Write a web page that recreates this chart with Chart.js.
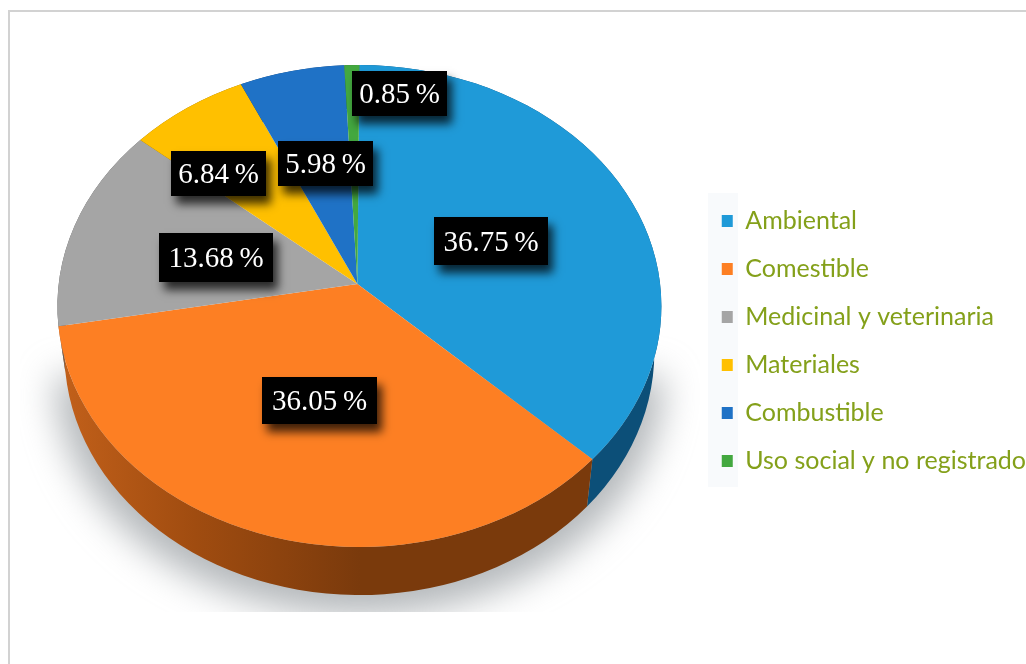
<!DOCTYPE html>
<html>
<head>
<meta charset="utf-8">
<title>Usos</title>
<script src="https://cdn.jsdelivr.net/npm/chart.js@4"></script>
<style>
  html, body { margin: 0; background: #fff; overflow: hidden; }
  #frame { position: absolute; left: 8px; top: 10px; right: 0; bottom: 0; border-left: 2px solid #d2d2d2; border-top: 2px solid #d2d2d2; }
  #usos { position: absolute; left: 0; top: 0; }
</style>
</head>
<body>
<div id="frame"></div>
<canvas id="usos" width="1026" height="664"></canvas>
<script>
// Data
const categories = ["Ambiental", "Comestible", "Medicinal y veterinaria", "Materiales", "Combustible", "Uso social y no registrado"];
const percentages = [36.75, 36.05, 13.68, 6.84, 5.98, 0.85];
const sliceColors = ["#1f9ad8", "#fd7f23", "#a5a5a5", "#ffc000", "#1f72c6", "#43a83f"];
const wallColors = ["#0c4f78", "#7a3a0c", "#5f5f5f", "#8a6800", "#123f70", "#245c22"];

// Black value boxes: left, top, right, bottom
const labelBoxes = [[434, 217, 548, 265], [262, 377, 377, 424], [159, 233, 273, 282], [171, 151, 266, 196], [278, 141, 373, 186], [352, 71, 447, 116]];

// Tilted pie look
const squash = 0.798;      // top face height / width
const apexLift = 22;       // slice tip sits above the ellipse centre
const warp = 3.5 * Math.PI / 180;
const wallDrop = 46;       // bottom rim centre below the top rim
const wallInset = 7;       // bottom rim is a little narrower

function rimAngle(a) { return a - warp * Math.cos(a); }

const tiltedPie = {
  id: 'tiltedPie',
  afterLayout(chart) {
    // legend block is centred lower than the pie
    chart.legend.top += 35;
    chart.legend.bottom += 35;
  },
  beforeDraw(chart) {
    const ctx = chart.ctx;
    ctx.save();
    ctx.fillStyle = '#f8fafc';
    ctx.fillRect(708, 193, 30, 294);
    ctx.restore();
  },
  beforeDatasetDraw(chart, args) {
    const ctx = chart.ctx;
    const arcs = args.meta.data;
    const cx = arcs[0].x, cy = arcs[0].y, r = arcs[0].outerRadius;
    const ry = r * squash;
    const botR = r - wallInset, botRy = ry + 2, botY = cy + wallDrop;

    // soft shadow under the pie, lower half only so it fades out upwards
    ctx.save();
    ctx.beginPath();
    ctx.rect(20, 200, 680, 412);
    ctx.clip();
    ctx.filter = 'blur(18px)';
    ctx.fillStyle = 'rgba(150,155,160,0.72)';
    ctx.beginPath();
    ctx.ellipse(cx, cy + 70, r + 2, ry - 2, 0, 0, Math.PI);
    ctx.closePath();
    ctx.fill();
    ctx.restore();

    // side walls
    const wallFill = ctx.createLinearGradient(60, 0, 360, 0);
    wallFill.addColorStop(0, '#c2601a');
    wallFill.addColorStop(0.45, '#a04c10');
    wallFill.addColorStop(1, wallColors[1]);
    arcs.forEach((arc, i) => {
      const a0 = rimAngle(arc.startAngle), a1 = rimAngle(arc.endAngle);
      ctx.beginPath();
      ctx.ellipse(cx, cy, r, ry, 0, a0, a1);
      ctx.lineTo(cx + botR * Math.cos(a1), botY + botRy * Math.sin(a1));
      ctx.ellipse(cx, botY, botR, botRy, 0, a1, a0, true);
      ctx.closePath();
      ctx.fillStyle = i === 1 ? wallFill : wallColors[i];
      ctx.fill();
    });

    // top face
    arcs.forEach(arc => {
      ctx.beginPath();
      ctx.moveTo(cx - 2, cy - apexLift);
      ctx.ellipse(cx, cy, r, ry, 0, rimAngle(arc.startAngle), rimAngle(arc.endAngle));
      ctx.closePath();
      ctx.fillStyle = arc.options.backgroundColor;
      ctx.fill();
    });
    return false;
  },
  afterDatasetsDraw(chart) {
    const ctx = chart.ctx;
    labelBoxes.forEach((b, i) => {
      ctx.save();
      ctx.shadowColor = 'rgba(0,0,0,0.75)';
      ctx.shadowBlur = 9;
      ctx.shadowOffsetX = 5;
      ctx.shadowOffsetY = 8;
      ctx.fillStyle = '#000';
      ctx.fillRect(b[0], b[1], b[2] - b[0], b[3] - b[1]);
      ctx.restore();
      ctx.fillStyle = '#fff';
      ctx.font = '29px "Liberation Serif"';
      ctx.textAlign = 'center';
      ctx.textBaseline = 'middle';
      ctx.fillText(percentages[i].toFixed(2) + '\u2009%', (b[0] + b[2]) / 2, (b[1] + b[3]) / 2 + 2);
    });
  }
};

new Chart(document.getElementById('usos'), {
  type: 'pie',
  data: {
    labels: categories,
    datasets: [{ data: percentages, backgroundColor: sliceColors, borderWidth: 0 }]
  },
  options: {
    responsive: false,
    animation: false,
    layout: { padding: { left: 20, right: -10, top: 4, bottom: 56 } },
    plugins: {
      tooltip: { enabled: false },
      legend: {
        position: 'right',
        labels: {
          boxWidth: 11,
          boxHeight: 12,
          padding: 23,
          color: '#84a01a',
          font: { family: 'Lato', size: 25 }
        }
      }
    }
  },
  plugins: [tiltedPie]
});
</script>
</body>
</html>
